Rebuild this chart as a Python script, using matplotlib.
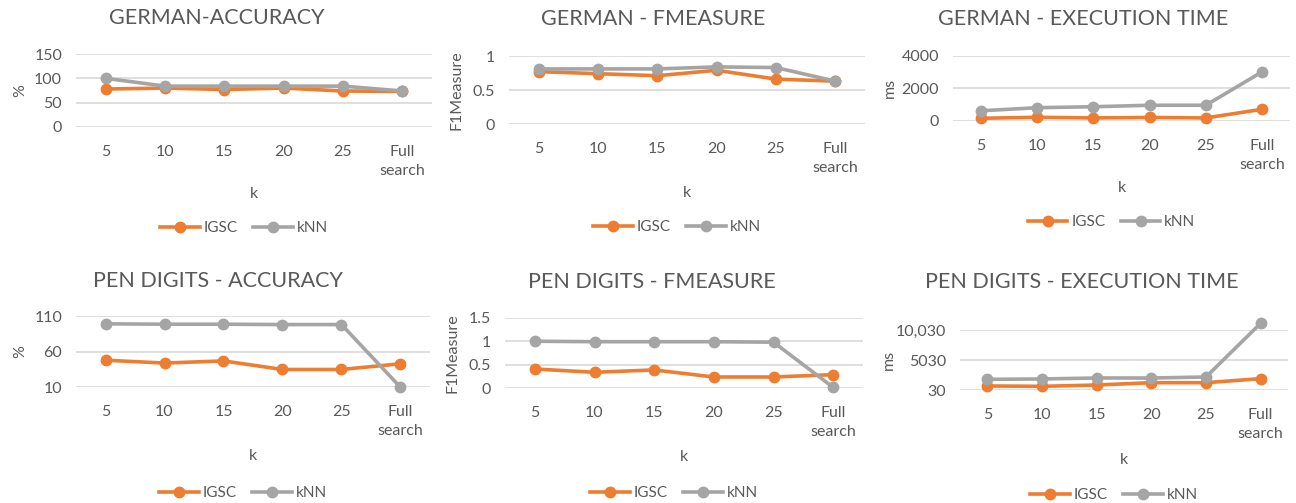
import matplotlib
matplotlib.use("Agg")
import matplotlib.pyplot as plt

plt.rcParams['font.family'] = ['Lato', 'DejaVu Sans']

W, H = 1296, 503
DPI = 100

categories = ["5", "10", "15", "20", "25", "Full\nsearch"]
series_names = ["IGSC", "kNN"]

german_acc_igsc = [78, 80, 77, 80, 74, 73]
german_acc_knn = [100, 84, 84, 84, 84, 74]
german_f1_igsc = [0.77, 0.74, 0.71, 0.79, 0.66, 0.63]
german_f1_knn = [0.81, 0.81, 0.81, 0.84, 0.83, 0.63]
german_time_igsc = [150, 210, 170, 200, 170, 700]
german_time_knn = [610, 800, 860, 950, 950, 3000]
pen_acc_igsc = [48, 44, 47, 35, 35, 43]
pen_acc_knn = [99, 98.5, 98.5, 98, 98, 10]
pen_f1_igsc = [0.41, 0.34, 0.39, 0.24, 0.24, 0.29]
pen_f1_knn = [1.0, 0.99, 0.99, 0.99, 0.98, 0.02]
pen_time_igsc = [700, 640, 860, 1250, 1250, 1920]
pen_time_knn = [1810, 1870, 2030, 2030, 2200, 11150]

ORANGE = "#ED7D31"
GRAY = "#A5A5A5"
TEXT = "#595959"
GRID = "#D9D9D9"

fig = plt.figure(figsize=(W / DPI, H / DPI), dpi=DPI)
fig.patch.set_facecolor("white")


def fx(x):
    return x / W


def fy(y):
    return 1 - y / H


panels = [
    dict(title="GERMAN-ACCURACY", ylabel="%", box=(76, 54, 432, 127),
         ylim=(0, 150), yticks=[0, 50, 100, 150], ytl=["0", "50", "100", "150"],
         data=(german_acc_igsc, german_acc_knn),
         title_xy=(217, 18), ylabel_x=20, k_y=194, leg_y=228),
    dict(title="GERMAN - FMEASURE", ylabel="F1Measure", box=(509, 56, 865, 124),
         ylim=(0, 1), yticks=[0, 0.5, 1], ytl=["0", "0.5", "1"],
         data=(german_f1_igsc, german_f1_knn),
         title_xy=(653, 19), ylabel_x=457, k_y=193, leg_y=227),
    dict(title="GERMAN - EXECUTION TIME", ylabel="ms", box=(953, 55.7, 1290, 120.7),
         ylim=(0, 4000), yticks=[0, 2000, 4000], ytl=["0", "2000", "4000"],
         data=(german_time_igsc, german_time_knn),
         title_xy=(1083, 19), ylabel_x=890, k_y=188, leg_y=222),
    dict(title="PEN DIGITS - ACCURACY", ylabel="%", box=(76, 316, 430, 387.3),
         ylim=(10, 110), yticks=[10, 60, 110], ytl=["10", "60", "110"],
         data=(pen_acc_igsc, pen_acc_knn),
         title_xy=(218, 281), ylabel_x=20, k_y=456, leg_y=493),
    dict(title="PEN DIGITS - FMEASURE", ylabel="F1Measure", box=(505, 317.7, 863, 388.3),
         ylim=(0, 1.5), yticks=[0, 0.5, 1, 1.5], ytl=["0", "0.5", "1", "1.5"],
         data=(pen_f1_igsc, pen_f1_knn),
         title_xy=(652, 282), ylabel_x=453, k_y=457, leg_y=493),
    dict(title="PEN DIGITS - EXECUTION TIME", ylabel="ms", box=(960, 330, 1288, 390),
         ylim=(30, 10030), yticks=[30, 5030, 10030], ytl=["30", "5030", "10,030"],
         data=(pen_time_igsc, pen_time_knn),
         title_xy=(1082, 282), ylabel_x=889, k_y=460, leg_y=495),
]

xs = list(range(len(categories)))

for p in panels:
    x0, y0, x1, y1 = p["box"]
    ax = fig.add_axes([fx(x0), fy(y1), (x1 - x0) / W, (y1 - y0) / H])
    ax.set_xlim(-0.5, len(categories) - 0.5)
    ax.set_ylim(*p["ylim"])
    ax.set_yticks(p["yticks"])
    ax.set_yticklabels(p["ytl"])
    ax.set_xticks(xs)
    ax.set_xticklabels(categories, linespacing=1.45)
    for s in ax.spines.values():
        s.set_visible(False)
    ax.grid(axis="y", color=GRID, linewidth=1.2)
    ax.set_axisbelow(True)
    ax.tick_params(axis="both", length=0, labelsize=11.5, colors=TEXT)
    ax.tick_params(axis="x", pad=13)
    ax.tick_params(axis="y", pad=10)

    igsc, knn = p["data"]
    l1, = ax.plot(xs, igsc, color=ORANGE, lw=2.6, marker="o", ms=7.5,
                  clip_on=False, zorder=3)
    l2, = ax.plot(xs, knn, color=GRAY, lw=2.6, marker="o", ms=7.5,
                  clip_on=False, zorder=4)

    cx = (x0 + x1) / 2
    tx, ty = p["title_xy"]
    fig.text(fx(tx), fy(ty), p["title"], ha="center", va="center",
             fontsize=15.5, color=TEXT)
    fig.text(fx(p["ylabel_x"]), fy((y0 + y1) / 2), p["ylabel"], rotation=90,
             ha="center", va="center", fontsize=11.5, color=TEXT)
    fig.text(fx(cx), fy(p["k_y"]), "k", ha="center", va="center",
             fontsize=11.5, color=TEXT)
    fig.legend([l1, l2], series_names, loc="center",
               bbox_to_anchor=(fx(cx - 10), fy(p["leg_y"])), ncol=2,
               frameon=False, fontsize=11, labelcolor=TEXT,
               handlelength=2.6, handletextpad=0.25, columnspacing=1.0)

fig.savefig("out.png", dpi=DPI, facecolor="white")
